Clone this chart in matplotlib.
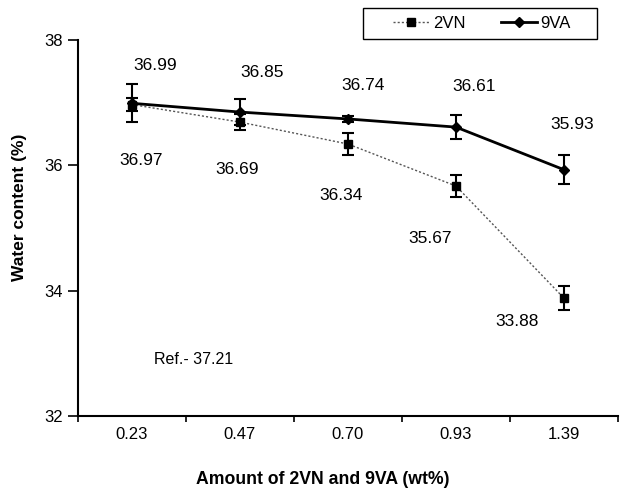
import matplotlib
matplotlib.use("Agg")
import matplotlib.pyplot as plt
from matplotlib.ticker import FixedLocator
from matplotlib.lines import Line2D
from matplotlib.patches import Rectangle
import numpy as np

categories = ["0.23", "0.47", "0.70", "0.93", "1.39"]
vn_values = [36.97, 36.69, 36.34, 35.67, 33.88]
vn_err = [0.11, 0.13, 0.18, 0.18, 0.19]
va_values = [36.99, 36.85, 36.74, 36.61, 35.93]
va_err = [0.30, 0.21, 0.05, 0.19, 0.23]
ref_text = "Ref.- 37.21"
yticks = [32, 34, 36, 38]

plt.rcParams['font.family'] = ['Liberation Sans', 'DejaVu Sans']

fig = plt.figure(figsize=(6.21, 4.93), dpi=100)
ax = fig.add_axes([78/621, 1-416/493, 540/621, 376/493])

x = np.arange(len(categories))

vn_style = dict(color='#555555', ls=(0, (1.5, 1.5)), lw=1.0, marker='s', ms=5.5,
                mfc='black', mec='black')
va_style = dict(color='black', ls='-', lw=2.0, marker='D', ms=5.5, mfc='black', mec='black')

ax.errorbar(x, vn_values, yerr=vn_err, ecolor='black', elinewidth=1.5, capsize=4,
            capthick=1.5, zorder=3, **vn_style)
ax.errorbar(x, va_values, yerr=va_err, ecolor='black', elinewidth=1.5, capsize=4,
            capthick=1.5, zorder=4, **va_style)

ax.set_xlim(-0.5, len(categories) - 0.5)
ax.set_ylim(32, 38)
ax.set_yticks(yticks)
ax.set_xticks(x)
ax.set_xticklabels(categories)
ax.xaxis.set_minor_locator(FixedLocator(np.arange(len(categories) + 1) - 0.5))
ax.tick_params(axis='x', which='major', length=0, labelsize=12, pad=8)
ax.tick_params(axis='x', which='minor', length=4, width=1.2, direction='out')
ax.tick_params(axis='y', length=7, width=1.2, direction='out', labelsize=12, pad=4)

for s in ['top', 'right']:
    ax.spines[s].set_visible(False)
for s in ['left', 'bottom']:
    ax.spines[s].set_linewidth(1.5)

ax.set_xlabel("Amount of 2VN and 9VA (wt%)", fontsize=12.7, fontweight='bold')
ax.xaxis.set_label_coords((323-78)/540, -(480-416)/376)
ax.xaxis.label.set_va('center')
ax.set_ylabel("Water content (%)", fontsize=12.5, fontweight='bold')
ax.yaxis.set_label_coords(-(78-20)/540, (416-207)/376)
ax.yaxis.label.set_va('center')

# value labels (pixel offsets converted to points)
va_off = [(23, -38), (22, -40), (15, -33), (18, -41), (8, -45)]
vn_off = [(9, 56), (-3, 47), (-7, 51), (-26, 52), (-47, 23)]
for i in range(len(categories)):
    dx, dy = va_off[i]
    ax.annotate(f"{va_values[i]:.2f}", (x[i], va_values[i]), xytext=(dx*0.72, -dy*0.72),
                textcoords='offset points', ha='center', va='center', fontsize=12.5)
    dx, dy = vn_off[i]
    ax.annotate(f"{vn_values[i]:.2f}", (x[i], vn_values[i]), xytext=(dx*0.72, -dy*0.72),
                textcoords='offset points', ha='center', va='center', fontsize=12.5)

fig.text(154/621, 1-359/493, ref_text, ha='left', va='center', fontsize=11.5)

# legend
fig.patches.append(Rectangle((363/621, 1-39/493), 234/621, 31/493, transform=fig.transFigure,
                             fill=False, edgecolor='black', lw=1.0))
handles = [Line2D([], [], **vn_style), Line2D([], [], **va_style)]
leg = fig.legend(handles, ['2VN', '9VA'], loc='center', bbox_to_anchor=(482/621, 1-23.5/493),
                 ncol=2, frameon=False, fontsize=12, handlelength=2.2, columnspacing=2.1,
                 handletextpad=0.2)

fig.savefig("out.png", dpi=100)
